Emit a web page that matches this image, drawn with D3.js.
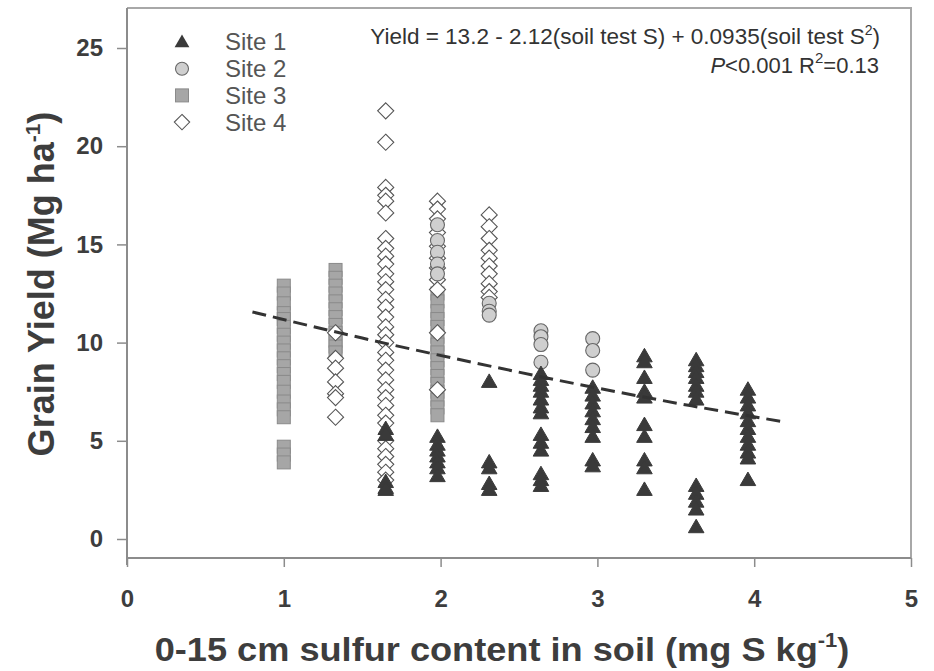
<!DOCTYPE html>
<html>
<head>
<meta charset="utf-8">
<script src="https://cdn.jsdelivr.net/npm/d3@7"></script>
<style>
  body { margin: 0; background: #fff; }
  text { font-family: "Liberation Sans", Arial, sans-serif; }
</style>
</head>
<body>
<div id="chart"></div>
<script>
// values (soil S, grain yield)
const xTicks = [0, 1, 2, 3, 4, 5];
const yTicks = [0, 5, 10, 15, 20, 25];

const site1 = [
    [1.65, [5.6, 5.3, 2.9, 2.6, 2.5]],
    [1.98, [5.2, 4.8, 4.5, 4.2, 3.9, 3.6, 3.2]],
    [2.31, [8.0, 3.9, 3.6, 2.8, 2.5]],
    [2.64, [8.4, 8.1, 7.8, 7.5, 7.1, 6.7, 6.4, 5.3, 4.9, 4.5, 3.3, 3.0, 2.7]],
    [2.97, [7.7, 7.3, 6.9, 6.5, 6.1, 5.7, 5.2, 4.0, 3.7]],
    [3.30, [9.3, 9.0, 8.2, 7.5, 7.2, 5.8, 5.2, 4.0, 3.6, 2.5]],
    [3.63, [9.1, 8.8, 8.5, 8.2, 7.8, 7.5, 7.1, 2.7, 2.3, 1.9, 1.5, 0.6]],
    [3.96, [7.6, 7.2, 6.8, 6.4, 6.0, 5.6, 5.2, 4.8, 4.4, 4.1, 3.0]]
];
const site2 = [
    [1.98, [16.0, 15.2, 14.6, 14.0, 13.5]],
    [2.31, [12.0, 11.6, 11.4]],
    [2.64, [10.6, 10.3, 9.9, 9.0]],
    [2.97, [10.2, 9.6, 8.6]]
];
const site3 = [
    [1.00, [12.9, 12.5, 12.0, 11.5, 11.2, 10.8, 10.4, 10.0, 9.6, 9.2, 8.8, 8.4, 8.0, 7.5, 7.0, 6.6, 6.2, 4.7, 4.3, 3.9]],
    [1.33, [13.7, 13.3, 12.9, 12.5, 12.1, 11.7, 11.3, 10.9, 10.5, 10.1, 9.8, 9.5]],
    [1.98, [12.5, 12.1, 11.6, 11.2, 10.8, 10.3, 9.9, 9.5, 9.1, 8.7, 8.3, 7.9, 7.5, 7.1, 6.7, 6.3]]
];
const site4 = [
    [1.33, [10.5, 9.2, 8.7, 8.0, 7.4, 7.2, 6.2]],
    [1.65, [21.8, 20.2, 17.9, 17.5, 17.2, 16.6, 15.3, 14.8, 14.4, 14.0, 13.5, 13.1, 12.7, 12.2, 11.8, 11.3,
            10.8, 10.4, 10.0, 9.5, 9.1, 8.6, 8.1, 7.6, 7.2, 6.8, 6.3, 5.9, 5.0, 4.6, 4.2, 3.8, 3.4, 3.0]],
    [1.98, [17.2, 16.8, 16.3, 15.6, 14.9, 14.3, 13.8, 13.2, 12.7, 10.5, 7.6]],
    [2.31, [16.5, 15.9, 15.3, 14.7, 14.3, 13.9, 13.5, 13.0, 12.6, 12.3]]
];

// quadratic fit as drawn (Yield = 13.2 - 2.12 S + 0.0935 S^2)
const fitX = [0.8, 1.5, 2.2, 2.9, 3.6, 4.2];
const fitY = [11.56, 10.23, 9.00, 7.84, 6.78, 5.95];

const legendNames = ["Site 1", "Site 2", "Site 3", "Site 4"];

const flat = s => s.flatMap(([x, ys]) => ys.map(y => ({x: x, y: y})));

const W = 934, H = 671;
const svg = d3.select("#chart").append("svg")
    .attr("width", W)
    .attr("height", H);

const plot = {left: 127, right: 911, top: 8, bottom: 558};

const x = d3.scaleLinear().domain([0, 5]).range([plot.left, plot.right]);
const y = d3.scaleLinear().domain([0, 25]).range([539, 48]);

const axisCol = "#8c8c8c";
const textCol = "#3d3d3d";

// frame (top + right)
svg.append("path")
    .attr("d", `M${plot.left},${plot.top}H${plot.right}V${plot.bottom}`)
    .attr("fill", "none")
    .attr("stroke", "#a8a8a8")
    .attr("stroke-width", 2);

// axes
const xAxis = svg.append("g")
    .attr("transform", `translate(0,${plot.bottom})`)
    .call(d3.axisBottom(x).tickValues(xTicks).tickSize(9).tickPadding(23).tickFormat(d3.format("d")));
const yAxis = svg.append("g")
    .attr("transform", `translate(${plot.left},0)`)
    .call(d3.axisLeft(y).tickValues(yTicks).tickSize(10).tickPadding(14).tickSizeOuter(0));

yAxis.select(".domain").attr("d", `M0,${plot.top}V${plot.bottom + 7}`);
xAxis.select(".domain").attr("d", `M${plot.left},0H${plot.right}`);

[xAxis, yAxis].forEach(g => {
    g.select(".domain").attr("stroke", axisCol).attr("stroke-width", 2);
    g.selectAll(".tick line").attr("stroke", axisCol).attr("stroke-width", 1.5);
    g.selectAll(".tick text")
        .attr("fill", textCol)
        .style("font-size", "24px")
        .style("font-weight", "bold");
});

// markers
const marks = svg.append("g");

marks.append("g")
    .selectAll("rect").data(flat(site3)).join("rect")
    .attr("x", d => x(d.x) - 6.5)
    .attr("y", d => y(d.y) - 6.5)
    .attr("width", 13)
    .attr("height", 13)
    .attr("fill", "#a6a6a6")
    .attr("stroke", "#8a8a8a")
    .attr("stroke-width", 1);

marks.append("g")
    .selectAll("path").data(flat(site4)).join("path")
    .attr("d", d3.symbol(d3.symbolDiamond2, 165))
    .attr("transform", d => `translate(${x(d.x)},${y(d.y)})`)
    .attr("fill", "#fff")
    .attr("stroke", "#555")
    .attr("stroke-width", 1.1);

marks.append("g")
    .selectAll("circle").data(flat(site2)).join("circle")
    .attr("cx", d => x(d.x))
    .attr("cy", d => y(d.y))
    .attr("r", 7)
    .attr("fill", "#cfcfcf")
    .attr("stroke", "#666")
    .attr("stroke-width", 1.1);

marks.append("g")
    .selectAll("path").data(flat(site1)).join("path")
    .attr("d", d3.symbol(d3.symbolTriangle, 105))
    .attr("transform", d => `translate(${x(d.x)},${y(d.y) + 1})`)
    .attr("fill", "#3a3a3a")
    .attr("stroke", "#3a3a3a")
    .attr("stroke-width", 1);

// fit line
svg.append("path")
    .datum(fitX.map((v, i) => [v, fitY[i]]))
    .attr("d", d3.line().x(d => x(d[0])).y(d => y(d[1])).curve(d3.curveMonotoneX))
    .attr("fill", "none")
    .attr("stroke", "#333")
    .attr("stroke-width", 3)
    .attr("stroke-dasharray", "14,7");

// legend
const legend = svg.append("g").attr("transform", "translate(182,42)");
const rowH = 26.7;
legend.selectAll("text").data(legendNames).join("text")
    .attr("x", 43)
    .attr("y", (d, i) => i * rowH)
    .attr("dy", "0.35em")
    .attr("fill", "#555")
    .style("font-size", "24px")
    .text(d => d);

legend.append("path")
    .attr("d", d3.symbol(d3.symbolTriangle, 95))
    .attr("transform", "translate(0,1)")
    .attr("fill", "#3a3a3a");
legend.append("circle")
    .attr("cy", rowH).attr("r", 6.5)
    .attr("fill", "#cfcfcf").attr("stroke", "#666").attr("stroke-width", 1.1);
legend.append("rect")
    .attr("x", -6.5).attr("y", 2 * rowH - 6.5).attr("width", 13).attr("height", 13)
    .attr("fill", "#a6a6a6").attr("stroke", "#8a8a8a");
legend.append("path")
    .attr("d", d3.symbol(d3.symbolDiamond2, 150))
    .attr("transform", `translate(0,${3 * rowH})`)
    .attr("fill", "#fff").attr("stroke", "#555").attr("stroke-width", 1.1);

// regression text
const eq = svg.append("text")
    .attr("x", 880).attr("y", 44)
    .attr("text-anchor", "end")
    .attr("fill", "#333")
    .style("font-size", "22.5px");
eq.append("tspan").text("Yield = 13.2 - 2.12(soil test S) + 0.0935(soil test S");
eq.append("tspan").attr("dy", -9).style("font-size", "14px").text("2");
eq.append("tspan").attr("dy", 9).text(")");

const stats = svg.append("text")
    .attr("x", 879).attr("y", 73)
    .attr("text-anchor", "end")
    .attr("fill", "#333")
    .style("font-size", "22px");
stats.append("tspan").style("font-style", "italic").text("P");
stats.append("tspan").text("<0.001  R");
stats.append("tspan").attr("dy", -10).style("font-size", "15px").text("2");
stats.append("tspan").attr("dy", 10).text("=0.13");

// axis titles
const yTitle = svg.append("text")
    .attr("transform", "translate(54,284) rotate(-90)")
    .attr("text-anchor", "middle")
    .attr("fill", textCol)
    .style("font-size", "36px")
    .style("font-weight", "bold");
yTitle.append("tspan").text("Grain Yield (Mg ha");
yTitle.append("tspan").attr("dy", -14).style("font-size", "21px").text("-1");
yTitle.append("tspan").attr("dy", 14).text(")");

const xTitle = svg.append("text")
    .attr("text-anchor", "middle")
    .attr("fill", textCol)
    .style("font-size", "33px")
    .style("font-weight", "bold");
xTitle.append("tspan").text("0-15 cm sulfur content in soil (mg S kg");
xTitle.append("tspan").attr("dy", -14).style("font-size", "20px").text("-1");
xTitle.append("tspan").attr("dy", 14).text(")");
// stretch to the width the title has in the original
const xtW = xTitle.node().getBBox().width;
xTitle.attr("transform", `translate(502,661) scale(${695 / xtW},1)`);
</script>
</body>
</html>
